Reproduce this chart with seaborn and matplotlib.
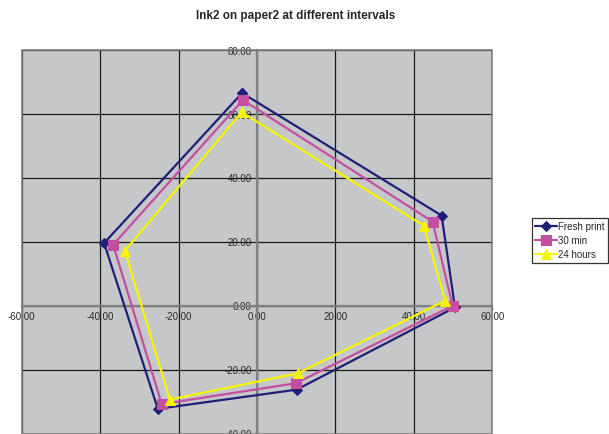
import matplotlib
matplotlib.use("Agg")
import matplotlib.pyplot as plt
import matplotlib.patches as mpatches
from matplotlib.ticker import FormatStrFormatter, MultipleLocator
import seaborn as sns
import pandas as pd

# Colour coordinates of Ink2 on paper2, one closed polygon per drying interval
series_names = ["Fresh print", "30 min", "24 hours"]
fresh_x = [-3.8, 47.1, 50.5, 10.1, -25.3, -39.0]
fresh_y = [66.4, 28.1, -0.6, -26.3, -32.3, 19.5]
min30_x = [-3.6, 44.8, 49.9, 9.9, -24.3, -36.7]
min30_y = [64.2, 26.2, -0.1, -24.3, -30.8, 19.0]
hours24_x = [-3.9, 42.6, 48.0, 10.4, -22.2, -33.7]
hours24_y = [60.4, 24.9, 1.5, -21.2, -29.4, 17.1]

colors = {"Fresh print": "#1F1F7A", "30 min": "#C44FA0", "24 hours": "#F5F500"}
markers = {"Fresh print": "D", "30 min": "s", "24 hours": "^"}
msizes = {"Fresh print": 5, "30 min": 7, "24 hours": 6.5}

frames = []
for name, xs, ys in zip(series_names,
                        [fresh_x, min30_x, hours24_x],
                        [fresh_y, min30_y, hours24_y]):
    # close each polygon by returning to the first point
    frames.append(pd.DataFrame({"x": xs + xs[:1], "y": ys + ys[:1],
                                "order": range(len(xs) + 1), "series": name}))
df = pd.concat(frames, ignore_index=True)

sns.set_theme(style="white")
plt.rcParams["font.family"] = ["Liberation Sans", "DejaVu Sans"]

fig = plt.figure(figsize=(6.09, 4.35), dpi=100)
ax = fig.add_axes([21.8 / 609, 0.5 / 435, 470.4 / 609, 384.0 / 435])
ax.set_facecolor("#C6C7C9")

for name in series_names:
    sub = df[df["series"] == name]
    sns.lineplot(data=sub, x="x", y="y", ax=ax, sort=False, estimator=None,
                 color=colors[name], marker=markers[name],
                 markersize=msizes[name], markeredgecolor=colors[name],
                 linewidth=1.6, label=name, zorder=5)

ax.set_xlim(-60, 60)
ax.set_ylim(-40, 80)
ax.xaxis.set_major_locator(MultipleLocator(20))
ax.yaxis.set_major_locator(MultipleLocator(20))
ax.xaxis.set_major_formatter(FormatStrFormatter("%.2f"))
ax.yaxis.set_major_formatter(FormatStrFormatter("%.2f"))
ax.set_xlabel("")
ax.set_ylabel("")

ax.grid(True, color="#1A1A1A", linewidth=0.9)
ax.set_axisbelow(True)

# axes cross at the origin
for side in ["left", "bottom"]:
    ax.spines[side].set_position(("data", 0))
    ax.spines[side].set_color("#7F7F7F")
    ax.spines[side].set_linewidth(1.6)
    ax.spines[side].set_zorder(3)
for side in ["top", "right"]:
    ax.spines[side].set_visible(False)

# plot-area border
ax.add_patch(mpatches.Rectangle((0, 0), 1, 1, transform=ax.transAxes,
                                fill=False, edgecolor="#808080",
                                linewidth=1.2, zorder=4, clip_on=False))

ax.tick_params(axis="both", direction="out", length=3, width=0.8,
               color="#333333", labelsize=7, labelcolor="#2A2A2A", pad=1)
ax.tick_params(axis="both", bottom=True, left=True)

fig.text(0.486, 0.963, "Ink2 on paper2 at different intervals",
         ha="center", va="center", fontsize=8.5, fontweight="bold")

leg = ax.legend(loc="upper left", bbox_to_anchor=(532 / 609, 1 - 219 / 435),
                bbox_transform=fig.transFigure, frameon=True, fancybox=False,
                edgecolor="black", fontsize=7, handlelength=2.2,
                borderpad=0.35, labelspacing=0.4, handletextpad=0.15,
                borderaxespad=0)
leg.get_frame().set_linewidth(0.9)

fig.savefig("out.png", dpi=100)
